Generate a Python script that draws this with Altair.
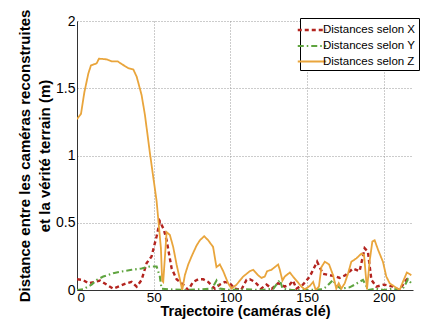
import altair as alt
import pandas as pd

# Z series (orange, solid)
z_x = [0, 2.6, 4.8, 7.4, 9.1, 12.8, 14.3, 19.3, 22.6, 26.5, 29.1, 33.4, 36.7, 38.9, 42.1, 44.3, 47.5, 51.9, 54.7, 55.5, 56.2, 58.4, 60.5, 62.7, 64.9, 68.6, 70.3, 72.5, 74.7, 77.9, 80.1, 82.9, 85.5, 88.7, 90.9, 93.1, 95.3, 98.5, 100.7, 104, 108.3, 110.5, 112.6, 114.8, 118, 120.2, 122.4, 123.9, 126.7, 131.1, 132.2, 133.9, 135.4, 138.7, 140.8, 143, 146.3, 148.4, 151.7, 153.9, 155.6, 157.7, 159.3, 161.5, 164.3, 166.9, 169, 170.6, 172.3, 174.5, 176.6, 178.8, 182.1, 185.3, 187.1, 189, 190.8, 192.5, 194, 196.2, 199.4, 201.6, 203.8, 207, 210.3, 212.4, 215, 217.9]
z_y = [1.27, 1.31, 1.47, 1.61, 1.67, 1.685, 1.72, 1.715, 1.70, 1.70, 1.68, 1.65, 1.64, 1.586, 1.45, 1.30, 1.02, 0.66, 0.31, 0.07, 0.06, 0.43, 0.41, 0.32, 0.19, 0.0, 0.11, 0.19, 0.25, 0.33, 0.37, 0.40, 0.37, 0.32, 0.17, 0.19, 0.14, 0.05, 0.01, 0.04, 0.10, 0.12, 0.14, 0.15, 0.11, 0.09, 0.10, 0.14, 0.15, 0.19, 0.15, 0.07, 0.10, 0.13, 0.10, 0.07, 0.025, 0.005, 0.03, 0.06, 0.0, 0.025, 0.17, 0.21, 0.19, 0.11, 0.01, 0.05, 0.01, 0.05, 0.12, 0.21, 0.235, 0.27, 0.26, 0.005, 0.22, 0.36, 0.37, 0.30, 0.21, 0.10, 0.05, 0.025, 0.0, 0.06, 0.13, 0.11]

# X series (red, dashed)
x_x = [0, 3.9, 7.4, 11.7, 15, 19.3, 23.6, 26.9, 32.3, 35.6, 38.9, 42.1, 45.4, 48.6, 51.9, 54, 56.6, 58.4, 61.7, 64.9, 69.2, 72.5, 75.7, 79, 82.2, 85.5, 89.8, 93.1, 96.4, 99.6, 102.9, 107, 110.5, 112.6, 116, 120, 123.5, 127, 131.1, 135.4, 138.7, 140.8, 143, 147.3, 151.7, 153.9, 156.5, 160.3, 164.7, 169, 171.2, 175, 179.9, 184.2, 187.5, 189.6, 191.9, 195.1, 200, 206, 210, 214.6, 216.8]
x_y = [0.08, 0.075, 0.05, 0.06, 0.07, 0.04, 0.01, 0.025, 0.05, 0.06, 0.025, 0.075, 0.20, 0.25, 0.40, 0.51, 0.45, 0.37, 0.16, 0.08, 0.04, 0.0, 0.06, 0.08, 0.08, 0.06, 0.01, 0.04, 0.06, 0.05, 0.01, 0.0, 0.075, 0.08, 0.06, 0.01, 0.04, 0.01, 0.05, 0.025, 0.04, 0.07, 0.01, 0.04, 0.10, 0.15, 0.21, 0.12, 0.11, 0.10, 0.09, 0.11, 0.16, 0.14, 0.31, 0.285, 0.075, 0.025, 0.04, 0.025, 0.0, 0.075, 0.10]

# Y series (green, dash-dot)
y_x = [0, 4, 9.5, 12.8, 17.1, 23.6, 30.1, 35.6, 42.1, 47.5, 51.9, 54, 55.1, 60, 70, 80, 88, 90.9, 93, 100, 110, 120, 128, 132.2, 134, 140, 150, 160, 162.6, 166.9, 168.5, 172, 177.7, 181, 184, 186.4, 190, 195, 200, 205, 210, 213, 215.7, 217.9]
y_y = [0, 0.005, 0.04, 0.075, 0.10, 0.125, 0.14, 0.15, 0.16, 0.175, 0.175, 0.10, 0.01, 0.005, 0.0, 0.005, 0.01, 0.07, 0.01, 0.0, 0.005, 0.0, 0.01, 0.075, 0.01, 0.0, 0.0, 0.005, 0.025, 0.075, 0.04, 0.01, 0.02, 0.04, 0.06, 0.075, 0.0, 0.01, 0.0, 0.01, 0.0, 0.02, 0.08, 0.05]

series_names = ["Distances selon X", "Distances selon Y", "Distances selon Z"]
series_colors = ["#b3241f", "#5fa43f", "#e9a53c"]
series_dashes = [[4, 3], [6, 3, 1.5, 3], [1, 0]]
series_widths = [2.4, 1.8, 2.6]

x_ticks = [0, 50, 100, 150, 200]
y_ticks = [0, 0.5, 1, 1.5, 2]

rows = []
for name, xs, ys in zip(series_names, [x_x, y_x, z_x], [x_y, y_y, z_y]):
    for i, (a, b) in enumerate(zip(xs, ys)):
        rows.append({"serie": name, "t": a, "d": b, "o": i})
df = pd.DataFrame(rows)

font = "Liberation Sans"

legend_opts = dict(title=None, orient="none", legendX=223, legendY=-3,
                   strokeColor="black", fillColor="white", padding=3,
                   symbolType="M-1.9,0H1.9", symbolSize=225, symbolStrokeWidth=2.2,
                   labelFontSize=11.5, rowPadding=1, labelOffset=2,
                   cornerRadius=0, labelLimit=200)

chart = alt.Chart(df).mark_line(clip=True).encode(
    x=alt.X("t:Q", scale=alt.Scale(domain=[0, 219], nice=False, zero=False),
            axis=alt.Axis(values=x_ticks, title="Trajectoire (caméras clé)",
                          labelFontSize=13.5, titleFontSize=14.5, titleFontWeight="bold",
                          labelPadding=0, titlePadding=1, ticks=False)),
    y=alt.Y("d:Q", scale=alt.Scale(domain=[0, 2], nice=False),
            axis=alt.Axis(values=y_ticks, labelExpr="datum.value + ''",
                          title=["Distance entre les caméras reconstruites", "et la vérité terrain (m)"],
                          labelFontSize=14, titleFontSize=15, titleFontWeight="bold",
                          titleLineHeight=20, labelPadding=2, titlePadding=3, ticks=False)),
    color=alt.Color("serie:N", scale=alt.Scale(domain=series_names, range=series_colors),
                    legend=alt.Legend(**legend_opts)),
    strokeDash=alt.StrokeDash("serie:N", scale=alt.Scale(domain=series_names, range=series_dashes),
                              legend=alt.Legend(**legend_opts)),
    strokeWidth=alt.StrokeWidth("serie:N", scale=alt.Scale(domain=series_names, range=series_widths), legend=None),
    order="o:Q",
).properties(
    width=336, height=269,
    autosize=alt.AutoSizeParams(type="none"),
    padding={"left": 69, "top": 13, "right": 8, "bottom": 29},
).configure(
    font=font,
).configure_view(
    stroke=None,
).configure_axis(
    grid=True, gridColor="#999", gridDash=[1, 2], gridWidth=1,
    domainColor="#333", domainWidth=1, labelColor="black", titleColor="black",
    labelFont=font, titleFont=font,
).configure_legend(
    labelFont=font, labelColor="black",
)

chart.save("out.html", embed_options={"renderer": "svg", "actions": False})
